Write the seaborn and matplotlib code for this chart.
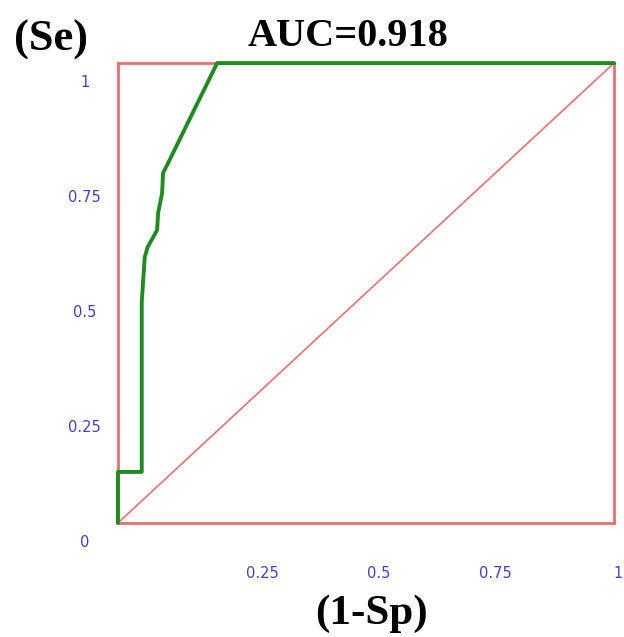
import matplotlib
matplotlib.use("Agg")
import matplotlib.pyplot as plt
import matplotlib.transforms as mtransforms
import seaborn as sns

# ROC curve points
fpr = [0.0, 0.0, 0.048, 0.048, 0.054, 0.060, 0.079, 0.081, 0.089, 0.091, 0.099, 0.200, 1.0]
tpr = [0.0, 0.111, 0.111, 0.480, 0.578, 0.600, 0.637, 0.674, 0.717, 0.761, 0.778, 1.0, 1.0]
diag = [0.0, 1.0]

x_ticks = [0.25, 0.5, 0.75, 1]
x_labels = ["0.25", "0.5", "0.75", "1"]
y_ticks = [0, 0.25, 0.5, 0.75, 1]
y_labels = ["0", "0.25", "0.5", "0.75", "1"]

sns.set_style("white")
plt.rcParams["font.family"] = ["DejaVu Sans"]

fig = plt.figure(figsize=(6.24, 6.37), dpi=100)
ax = fig.add_axes([0.189, 0.179, 0.795, 0.722])

frame_red = "#e87070"
sns.lineplot(x=diag, y=diag, ax=ax, color=frame_red, linewidth=1.2, sort=False, estimator=None)
sns.lineplot(x=fpr, y=tpr, ax=ax, color="#1e8c1e", linewidth=2.8, sort=False,
             estimator=None, clip_on=False, zorder=5)

ax.set_xlim(0, 1)
ax.set_ylim(0, 1)
for sp in ax.spines.values():
    sp.set_color(frame_red)
    sp.set_linewidth(2)

ax.set_xticks(x_ticks)
ax.set_xticklabels(x_labels)
ax.set_yticks(y_ticks)
ax.set_yticklabels(y_labels)
ax.tick_params(length=0, labelsize=10.5, labelcolor="#4040c8")
ax.tick_params(axis="x", pad=31)
ax.tick_params(axis="y", pad=24)

# labels in the source sit a bit lower / to the right of their ticks
dy = mtransforms.ScaledTranslation(0, -0.18, fig.dpi_scale_trans)
for lab in ax.get_yticklabels():
    lab.set_transform(lab.get_transform() + dy)
    lab.set_horizontalalignment("center")
shifts = [0.20, 0.13, 0.05, 0.09]
for lab, s in zip(ax.get_xticklabels(), shifts):
    lab.set_transform(lab.get_transform() + mtransforms.ScaledTranslation(s, 0, fig.dpi_scale_trans))
ax.get_xticklabels()[-1].set_horizontalalignment("right")

serif = ["Liberation Serif", "DejaVu Serif"]
fig.text(0.558, 0.943, "AUC=0.918", fontsize=29, fontweight="bold", family=serif,
         color="black", ha="center", va="center")
fig.text(0.082, 0.937, "(Se)", fontsize=32, fontweight="bold", family=serif,
         color="black", ha="center", va="center")
fig.text(0.596, 0.036, "(1-Sp)", fontsize=31, fontweight="bold", family=serif,
         color="black", ha="center", va="center")

fig.savefig("out.png", dpi=100)
